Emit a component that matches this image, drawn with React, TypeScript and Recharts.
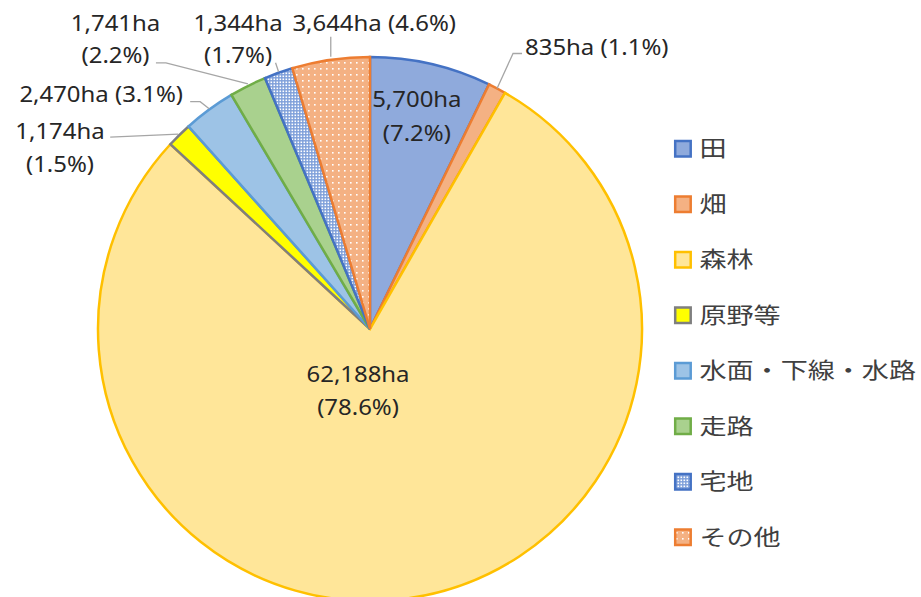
import React from "react";
import { PieChart, Pie, Cell, Legend } from "recharts";

const categories = ["田", "畑", "森林", "原野等", "水面・下線・水路", "走路", "宅地", "その他"];
const areas = [5700, 835, 62188, 1174, 2470, 1741, 1344, 3644];
const fills = ["#8FAADC", "#F4B183", "#FFE699", "#FFFF00", "#9DC3E6", "#A9D18E", "url(#patTaku)", "url(#patSono)"];
const strokes = ["#4472C4", "#ED7D31", "#FFC000", "#7F7F7F", "#5B9BD5", "#70AD47", "#4472C4", "#ED7D31"];
const legendFills = ["#8FAADC", "#F4B183", "#FFE699", "#FFFF00", "#9DC3E6", "#A9D18E", "url(#patTakuL)", "url(#patSonoL)"];

const total = areas.reduce((a, b) => a + b, 0);
const data = categories.map((name, i) => ({ name, value: areas[i] }));

// label layout: inside -> anchor at radius fraction; outside -> relative to edge point
type Lay = {
  kind: "in" | "out";
  r?: number;
  pts?: [number, number][];
  tx: number;
  bl: number[];
  anchor: "start" | "middle" | "end";
  split: boolean;
};
const layout: Lay[] = [
  { kind: "in", r: 0.8, tx: -2, bl: [-9.6, 23.8], anchor: "middle", split: true },
  { kind: "out", pts: [[0, 0], [16, -35], [25, -35]], tx: 28, bl: [-33.5], anchor: "start", split: false },
  { kind: "in", r: 0.25, tx: -22.3, bl: [-14.5, 18.8], anchor: "middle", split: true },
  { kind: "out", pts: [[-1, -1], [-69, 2]], tx: -119.2, bl: [4.2, 36.6], anchor: "middle", split: true },
  { kind: "out", pts: [[0, -1], [-9, -8], [-19, -8]], tx: -26.2, bl: [-8], anchor: "end", split: false },
  { kind: "out", pts: [[0, -2], [-82, -23], [-92, -23]], tx: -132.4, bl: [-55.2, -22.6], anchor: "middle", split: true },
  { kind: "out", pts: [[0, -1], [-3, -10]], tx: -40.5, bl: [-42.1, -9.5], anchor: "middle", split: true },
  { kind: "out", pts: [[0, -3], [0, -23]], tx: 43.4, bl: [-29.2], anchor: "middle", split: false },
];

const RAD = Math.PI / 180;
const SX = 1.14;

const renderLabel = (props: any) => {
  const { cx, cy, midAngle, outerRadius, index } = props;
  const lay = layout[index];
  const v = areas[index];
  const l1 = `${v.toLocaleString("en-US")}ha`;
  const l2 = `(${((v / total) * 100).toFixed(1)}%)`;
  const lines = lay.split ? [l1, l2] : [`${l1} ${l2}`];
  const dx = Math.cos(-midAngle * RAD);
  const dy = Math.sin(-midAngle * RAD);
  let px: number, py: number;
  if (lay.kind === "in") {
    px = cx + outerRadius * (lay.r as number) * dx;
    py = cy + outerRadius * (lay.r as number) * dy;
  } else {
    px = cx + outerRadius * dx;
    py = cy + outerRadius * dy;
  }
  return (
    <g key={`lbl-${index}`}>
      {lay.kind === "out" && lay.pts && (
        <polyline
          points={lay.pts.map(([a, b]) => `${px + a},${py + b}`).join(" ")}
          fill="none"
          stroke="#A6A6A6"
          strokeWidth={1.3}
        />
      )}
      {lines.map((t, k) => (
        <text
          key={k}
          transform={`translate(${px + lay.tx},${py + lay.bl[k]}) scale(${SX},1)`}
          textAnchor={lay.anchor}
          fontFamily="'Noto Sans', sans-serif"
          fontSize={21}
          fill="#262626"
        >
          {t}
        </text>
      ))}
    </g>
  );
};

const Patterns = ({ suffix }: { suffix: string }) => (
  <defs>
    <pattern id={`patTaku${suffix}`} width="3" height="3" patternUnits="userSpaceOnUse">
      <rect width="3" height="3" fill="#7E9FDA" />
      <rect x="0.5" y="0.5" width="1.6" height="1.6" fill="#FFFFFF" />
    </pattern>
    <pattern id={`patSono${suffix}`} width="6" height="6" patternUnits="userSpaceOnUse">
      <rect width="6" height="6" fill="#F4B183" />
      <rect x="2" y="2" width="1.6" height="1.6" fill="#FFFFFF" />
    </pattern>
  </defs>
);

const renderLegend = () => (
  <svg width={253} height={440} style={{ display: "block" }}>
    <Patterns suffix="L" />
    {categories.map((c, i) => {
      const cyy = 20.5 + 55.5 * i;
      return (
        <g key={c}>
          <rect x={7.2} y={cyy - 7.5} width={15.5} height={15.5} fill={legendFills[i]} stroke={strokes[i]} strokeWidth={2.5} />
          <text
            transform={`translate(31.5,${cyy - 2}) scale(1.23,1)`}
            dominantBaseline="central"
            fontFamily="'Noto Sans CJK JP', sans-serif"
            fontSize={22}
            fill="#404040"
          >
            {c}
          </text>
        </g>
      );
    })}
  </svg>
);

export default function App() {
  return (
    <div style={{ position: "absolute", left: 0, top: 0, width: 921, height: 597, background: "#FFFFFF" }}>
      <PieChart width={921} height={597} margin={{ top: 0, right: 0, bottom: 0, left: 0 }}>
        <Patterns suffix="" />
        <Pie
          data={data}
          dataKey="value"
          nameKey="name"
          cx={370}
          cy={329}
          outerRadius={272}
          startAngle={90}
          endAngle={-270}
          isAnimationActive={false}
          labelLine={false}
          label={renderLabel}
        >
          {data.map((d, i) => (
            <Cell key={d.name} fill={fills[i]} stroke={strokes[i]} strokeWidth={2.5} />
          ))}
        </Pie>
        <Legend
          content={renderLegend}
          wrapperStyle={{ position: "absolute", left: 668, top: 128, width: 253, height: 440 }}
        />
      </PieChart>
    </div>
  );
}
